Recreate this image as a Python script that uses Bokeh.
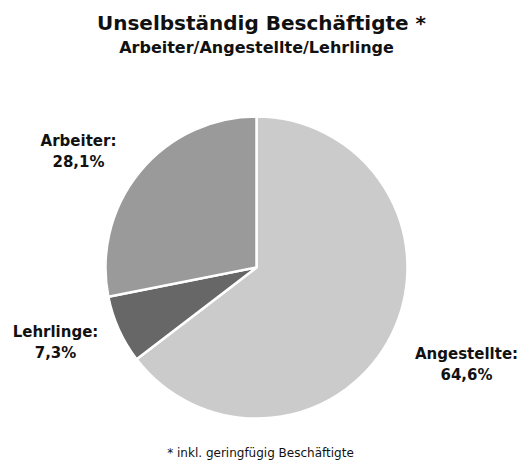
import numpy as np
from bokeh.plotting import figure
from bokeh.models import Range1d, ColumnDataSource
from bokeh.core.properties import value
from bokeh.embed import file_html
from bokeh.resources import INLINE

categories = ["Angestellte", "Lehrlinge", "Arbeiter"]
shares = [64.6, 7.3, 28.1]
label_texts = ["Angestellte:\n64,6%", "Lehrlinge:\n7,3%", "Arbeiter:\n28,1%"]
colors = ["#cbcbcb", "#676767", "#9a9a9a"]

title = "Unselbständig Beschäftigte *"
subtitle = "Arbeiter/Angestellte/Lehrlinge"
footnote = "* inkl. geringfügig Beschäftigte"

W, H = 523, 461
cx, cy, r = 256, H - 267, 151

vals = np.array(shares, dtype=float)
frac = vals / vals.sum()
cum = np.concatenate([[0], np.cumsum(frac)])
start = np.pi / 2 - cum[:-1] * 2 * np.pi
end = np.pi / 2 - cum[1:] * 2 * np.pi

src = ColumnDataSource(dict(cat=categories, start=start, end=end, color=colors))

p = figure(width=W, height=H, x_range=Range1d(0, W), y_range=Range1d(0, H),
           output_backend="svg", toolbar_location=None, min_border=0,
           background_fill_color="white", border_fill_color="white")
p.axis.visible = False
p.grid.visible = False
p.outline_line_color = None

p.wedge(x=cx, y=cy, radius=r, start_angle="start", end_angle="end", direction="clock",
        fill_color="color", line_color="white", line_width=2.5, source=src)

font = value("DejaVu Sans")
# slice labels
lx = [466, 55, 78]
ly = [H - 364, H - 342, H - 151]
p.text(x=lx, y=ly, text=label_texts, text_align="center", text_baseline="middle",
       text_font=font, text_font_style="bold", text_font_size="15px",
       text_color="#111111", text_line_height=1.2)

p.text(x=[261], y=[H - 22], text=[title], text_align="center", text_baseline="middle",
       text_font=font, text_font_style="bold", text_font_size="20px", text_color="#111111")
p.text(x=[256], y=[H - 47], text=[subtitle], text_align="center", text_baseline="middle",
       text_font=font, text_font_style="bold", text_font_size="16px", text_color="#111111")
p.text(x=[260], y=[H - 452], text=[footnote], text_align="center", text_baseline="middle",
       text_font=font, text_font_size="12px", text_color="#111111")

open("out.html", "w").write(file_html(p, INLINE))
